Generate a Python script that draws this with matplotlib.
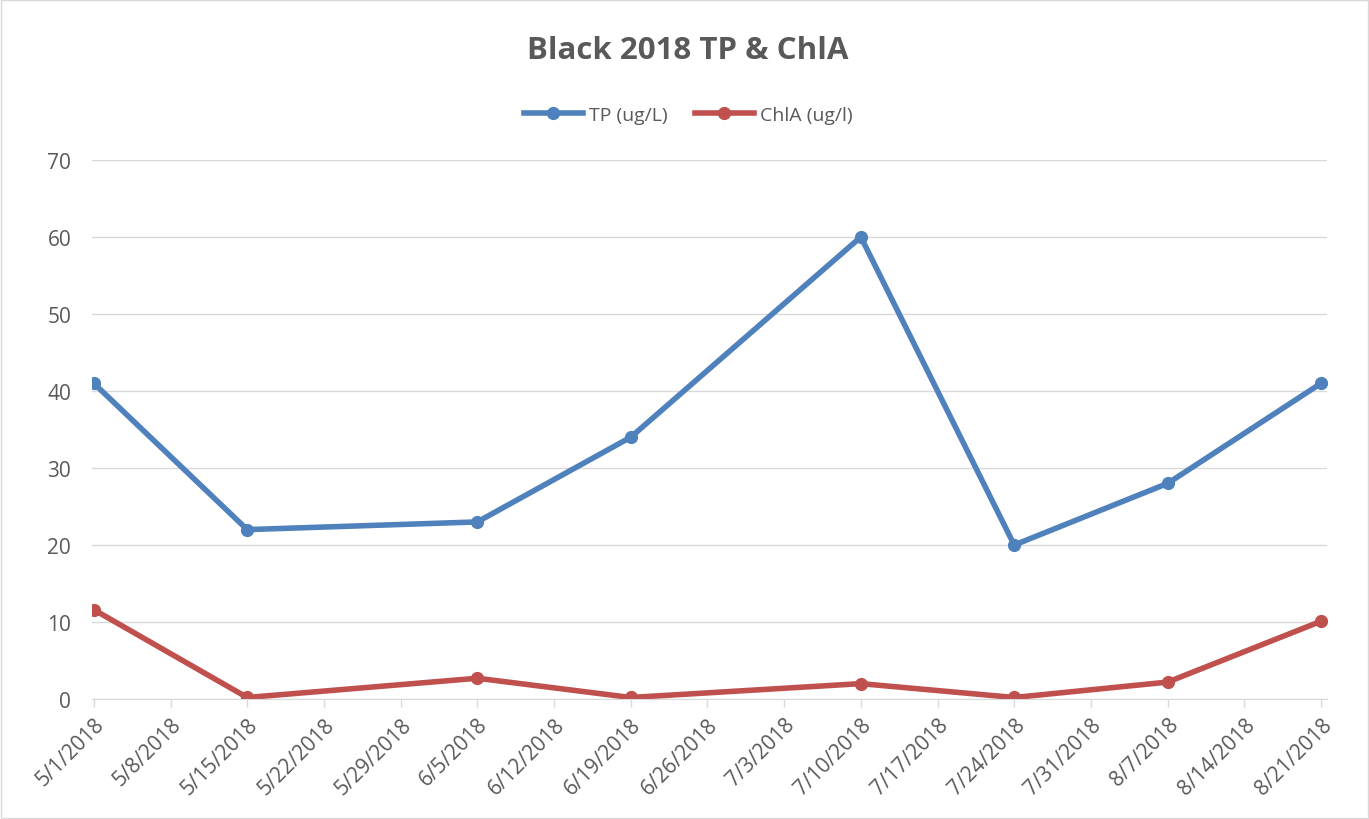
import pandas as pd
import matplotlib.pyplot as plt
import matplotlib.dates as mdates
import numpy as np

# sampling dates and values
dates = ["2018-05-01", "2018-05-15", "2018-06-05", "2018-06-19",
         "2018-07-10", "2018-07-24", "2018-08-07", "2018-08-21"]
tp = [41, 22, 23, 34, 60, 20, 28, 41]
chla = [11.6, 0.2, 2.7, 0.2, 2.0, 0.2, 2.2, 10.1]

d = pd.to_datetime(dates)
ticks = pd.date_range("2018-05-01", "2018-08-21", freq="7D")

plt.rcParams['font.family'] = ['Open Sans', 'DejaVu Sans']
grey = '#595959'

fig = plt.figure(figsize=(13.69, 8.2), dpi=100)
ax = fig.add_axes([0.0672, 0.1463, 0.9021, 0.6574])

ax.plot(d, tp, '-o', color='#4F81BD', lw=4, ms=8.5, label='TP (ug/L)')
ax.plot(d, chla, '-o', color='#C0504D', lw=4, ms=8.5, label='ChlA (ug/l)')

ax.set_ylim(0, 70)
ax.set_yticks(np.arange(0, 71, 10))
ax.set_xlim(d[0] - pd.Timedelta(hours=4), d[-1] + pd.Timedelta(hours=13))
ax.set_xticks(ticks)
ax.xaxis.set_major_formatter(mdates.DateFormatter('%-m/%-d/%Y'))
plt.setp(ax.get_xticklabels(), rotation=45, ha='right', rotation_mode='anchor')

ax.grid(axis='y', color='#d9d9d9', lw=1)
ax.set_axisbelow(True)
for s in ['top', 'right', 'left']:
    ax.spines[s].set_visible(False)
ax.spines['bottom'].set_color('#d9d9d9')
ax.tick_params(axis='x', colors='#d9d9d9', length=5.5, width=1, labelcolor=grey, labelsize=15, pad=5)
ax.tick_params(axis='y', length=0, labelcolor=grey, labelsize=15, pad=15)

fig.text(0.5026, 0.938, 'Black 2018 TP & ChlA', ha='center', va='center',
         fontsize=22.5, fontweight='bold', color=grey)
fig.legend(loc='center', bbox_to_anchor=(0.503, 0.859), ncol=2, frameon=False,
           fontsize=14, labelcolor=grey, handlelength=3, handletextpad=0.35,
           columnspacing=1.4)

fig.patches.append(plt.Rectangle((0.001, 0.001), 0.998, 0.998, transform=fig.transFigure,
                                 fill=False, edgecolor='#d9d9d9', lw=1))

fig.savefig('out.png', dpi=100)
